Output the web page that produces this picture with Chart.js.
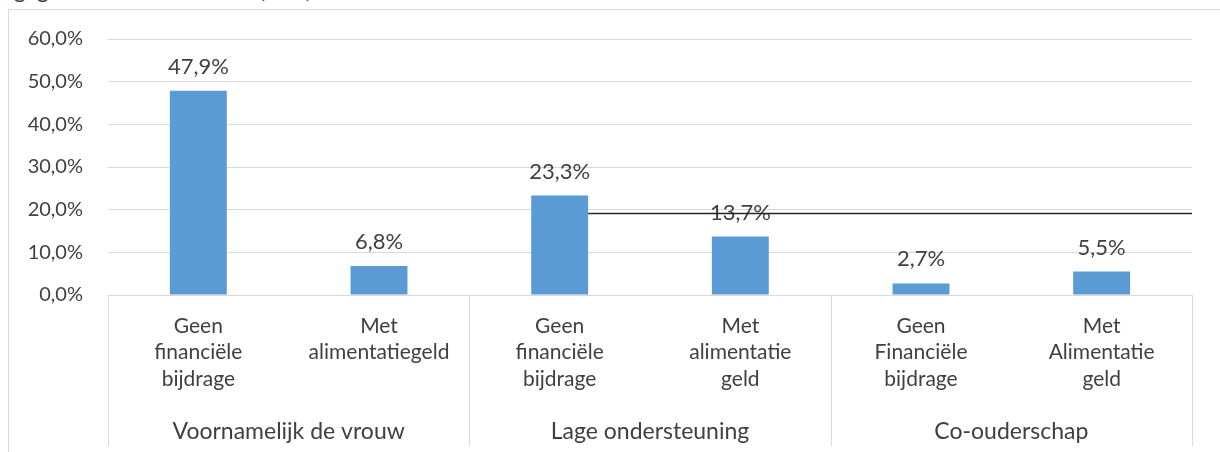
<!DOCTYPE html>
<html>
<head>
<meta charset="utf-8">
<script src="https://cdn.jsdelivr.net/npm/chart.js@4.4.0/dist/chart.umd.min.js"></script>
<style>
  body { margin: 0; background: #fff; overflow: hidden; }
  #wrap { position: relative; width: 1220px; height: 452px; overflow: hidden; }
  #frame { position: absolute; left: 8px; top: 9px; width: 1300px; height: 500px; border: 1px solid #d9d9d9; box-sizing: border-box; }
  #title { position: absolute; left: 14px; top: -21px; font: 22px Lato; line-height: 22px; color: #404040; white-space: nowrap; }
  canvas { position: absolute; left: 0; top: 0; }
</style>
</head>
<body>
<div id="wrap">
  <div id="title">gegevens over de ouders (in %)</div>
  <div id="frame"></div>
  <canvas id="chart" width="1220" height="452"></canvas>
</div>
<script>
// data
const categories = [
  ['Geen', 'financiële', 'bijdrage'],
  ['Met', 'alimentatiegeld'],
  ['Geen', 'financiële', 'bijdrage'],
  ['Met', 'alimentatie', 'geld'],
  ['Geen', 'Financiële', 'bijdrage'],
  ['Met', 'Alimentatie', 'geld']
];
const groups = ['Voornamelijk de vrouw', 'Lage ondersteuning', 'Co-ouderschap'];
const values = [47.9, 6.8, 23.3, 13.7, 2.7, 5.5];
const yMax = 60;
const yStep = 10;
const refLineValue = 19.2;

const FONT = 'Lato, "Open Sans", sans-serif';
const fmt = v => v.toFixed(1).replace('.', ',') + '%';

// labels, group separators, group names and the stray black line
const extras = {
  id: 'extras',
  afterDatasetsDraw(chart) {
    const c = chart.ctx;
    const xs = chart.scales.x;
    const ys = chart.scales.y;
    const area = chart.chartArea;
    const bars = chart.getDatasetMeta(0).data;
    const half = (xs.getPixelForValue(1) - xs.getPixelForValue(0)) / 2;

    c.save();
    // value labels
    c.font = '22px ' + FONT;
    c.fillStyle = '#404040';
    c.textAlign = 'center';
    c.textBaseline = 'alphabetic';
    bars.forEach((b, i) => c.fillText(fmt(values[i]), b.x, b.y - 17));

    // separators between groups
    c.strokeStyle = '#d9d9d9';
    c.lineWidth = 1;
    const bottom = chart.height - 6;
    for (let g = 0; g <= groups.length; g++) {
      const x = Math.round(g < groups.length ? xs.getPixelForValue(g * 2) - half : xs.getPixelForValue(g * 2 - 1) + half) + 0.5;
      c.beginPath();
      c.moveTo(x, area.bottom);
      c.lineTo(x, bottom);
      c.stroke();
    }

    // group names
    c.font = '23px ' + FONT;
    c.fillStyle = '#404040';
    c.textBaseline = 'middle';
    groups.forEach((name, g) => {
      const x = (xs.getPixelForValue(g * 2) + xs.getPixelForValue(g * 2 + 1)) / 2;
      c.fillText(name, x, chart.height - 20);
    });

    // black line
    const b3 = bars[2];
    const yl = Math.round(ys.getPixelForValue(refLineValue)) + 0.5;
    c.strokeStyle = '#262626';
    c.lineWidth = 1.5;
    c.beginPath();
    c.moveTo(b3.x + b3.width / 2, yl);
    c.lineTo(area.right, yl);
    c.stroke();
    c.restore();
  }
};

new Chart(document.getElementById('chart'), {
  type: 'bar',
  data: {
    labels: categories,
    datasets: [{
      data: values,
      backgroundColor: '#5b9bd5',
      borderWidth: 0,
      categoryPercentage: 1,
      barPercentage: 0.315
    }]
  },
  options: {
    responsive: false,
    animation: false,
    events: [],
    layout: { padding: { top: 39, right: 28, left: 0, bottom: 0 } },
    plugins: { legend: { display: false }, tooltip: { enabled: false } },
    scales: {
      x: {
        grid: { display: false, drawTicks: false },
        border: { display: false },
        ticks: { font: { size: 21, family: FONT, lineHeight: 1.26 }, color: '#404040', padding: 18, maxRotation: 0, autoSkip: false },
        afterFit: s => { s.height = 157; }
      },
      y: {
        min: 0,
        max: yMax,
        grid: { color: '#d9d9d9', drawTicks: false },
        border: { display: false },
        ticks: { stepSize: yStep, callback: v => fmt(v), font: { size: 20, family: FONT }, color: '#404040', padding: 25 },
        afterFit: s => { s.width = 108; }
      }
    }
  },
  plugins: [extras]
});
</script>
</body>
</html>
